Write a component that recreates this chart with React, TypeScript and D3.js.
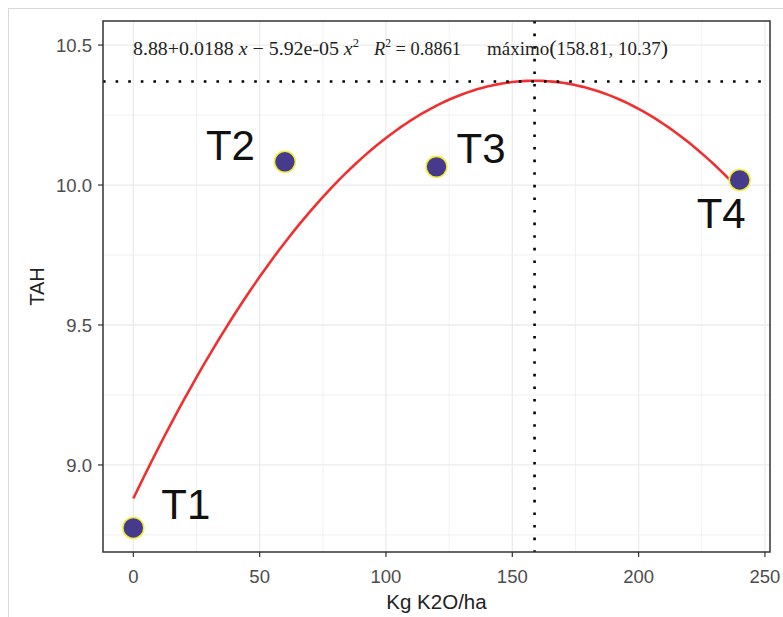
import React from "react";
import * as d3 from "d3";

const doses = [0, 60, 120, 240];
const tah = [8.775, 10.083, 10.065, 10.018];
const treatLabels = ["T1", "T2", "T3", "T4"];
const coefs = [8.88, 0.0188, -5.92e-5];
const maxPoint = [158.81, 10.37];
const r2 = 0.8861;
const xTicks = [0, 50, 100, 150, 200, 250];
const xMinor = [25, 75, 125, 175, 225];
const yTicks = [9.0, 9.5, 10.0, 10.5];
const yMinor = [8.75, 9.25, 9.75, 10.25];

const W = 783, H = 617;
const PL = 103, PR = 770, PT = 21, PB = 552;

export default function App() {
  const x = d3.scaleLinear().domain([-12, 252]).range([PL, PR]);
  const y = d3.scaleLinear().domain([8.689, 10.586]).range([PB, PT]);
  const fit = (v: number) => coefs[0] + coefs[1] * v + coefs[2] * v * v;
  const xs = d3.range(0, 240.01, 2);
  const line = d3.line<number>().x((v) => x(v)).y((v) => y(fit(v)));
  const labelOffsets = [[28, -9], [-79, -2], [20, -4], [-43, 48]];
  const sans = "Arial, 'Liberation Sans', sans-serif";
  const serif = "'Times New Roman', 'Liberation Serif', serif";
  const grid = "#ebebeb";
  const eqY = 55;
  return (
    <svg width={W} height={H} style={{ position: "absolute", left: 0, top: 0, background: "#fff" }}>
      <rect x={8.5} y={8.5} width={W} height={H} fill="none" stroke="#d9d9d9" />
      {xMinor.map((t) => (
        <line key={"xm" + t} x1={x(t)} x2={x(t)} y1={PT} y2={PB} stroke={grid} strokeWidth={0.7} />
      ))}
      {yMinor.map((t) => (
        <line key={"ym" + t} x1={PL} x2={PR} y1={y(t)} y2={y(t)} stroke={grid} strokeWidth={0.7} />
      ))}
      {xTicks.map((t) => (
        <line key={"xg" + t} x1={x(t)} x2={x(t)} y1={PT} y2={PB} stroke={grid} strokeWidth={1.3} />
      ))}
      {yTicks.map((t) => (
        <line key={"yg" + t} x1={PL} x2={PR} y1={y(t)} y2={y(t)} stroke={grid} strokeWidth={1.3} />
      ))}
      <path d={line(xs) || ""} fill="none" stroke="#f03030" strokeWidth={2.6} />
      <line x1={PL} x2={PR} y1={y(maxPoint[1])} y2={y(maxPoint[1])} stroke="#000" strokeWidth={2.6} strokeDasharray="2.6 10" />
      <line x1={x(maxPoint[0])} x2={x(maxPoint[0])} y1={PT} y2={PB} stroke="#000" strokeWidth={2.6} strokeDasharray="2.6 10" />
      {doses.map((d, i) => (
        <circle key={"p" + i} cx={x(d)} cy={y(tah[i])} r={10.5} fill="#463a8c" stroke="#f2ee3a" strokeWidth={1.6} />
      ))}
      {doses.map((d, i) => (
        <text key={"l" + i} x={x(d) + labelOffsets[i][0]} y={y(tah[i]) + labelOffsets[i][1]} fontFamily={sans} fontSize={42} fill="#111">
          {treatLabels[i]}
        </text>
      ))}
      <g fontFamily={serif} fill="#222">
        <text x={133} y={eqY} fontSize={19} textLength={226} lengthAdjust="spacingAndGlyphs">
          <tspan>{"8.88+0.0188 "}</tspan>
          <tspan fontStyle="italic">x</tspan>
          <tspan>{" \u2212 5.92e-05 "}</tspan>
          <tspan fontStyle="italic">x</tspan>
          <tspan fontSize={12} dy={-8}>2</tspan>
        </text>
        <text x={374} y={eqY} fontSize={19} textLength={87} lengthAdjust="spacingAndGlyphs">
          <tspan fontStyle="italic">R</tspan>
          <tspan fontSize={12} dy={-8}>2</tspan>
          <tspan dy={8}>{" = " + r2.toFixed(4)}</tspan>
        </text>
        <text x={487} y={eqY} fontSize={19} textLength={181} lengthAdjust="spacingAndGlyphs">
          <tspan>{"máximo"}</tspan>
          <tspan fontSize={22}>(</tspan>
          <tspan>{maxPoint[0].toFixed(2) + ", " + maxPoint[1].toFixed(2)}</tspan>
          <tspan fontSize={22}>)</tspan>
        </text>
      </g>
      <rect x={PL} y={PT} width={PR - PL} height={PB - PT} fill="none" stroke="#333" strokeWidth={1.5} />
      {xTicks.map((t) => (
        <g key={"xt" + t}>
          <line x1={x(t)} x2={x(t)} y1={PB} y2={PB + 5} stroke="#333" strokeWidth={1.2} />
          <text x={x(t)} y={576} dy="0.36em" textAnchor="middle" fontFamily={sans} fontSize={18.5} fill="#4d4d4d">
            {t}
          </text>
        </g>
      ))}
      {yTicks.map((t) => (
        <g key={"yt" + t}>
          <line x1={PL - 5} x2={PL} y1={y(t)} y2={y(t)} stroke="#333" strokeWidth={1.2} />
          <text x={PL - 11} y={y(t)} dy="0.36em" textAnchor="end" fontFamily={sans} fontSize={18.5} fill="#4d4d4d">
            {t.toFixed(1)}
          </text>
        </g>
      ))}
      <text x={(PL + PR) / 2} y={602} dy="0.36em" textAnchor="middle" fontFamily={sans} fontSize={20.5} fill="#222">
        Kg K2O/ha
      </text>
      <text transform={`translate(37,${(PT + PB) / 2}) rotate(-90)`} dy="0.36em" textAnchor="middle" fontFamily={sans} fontSize={20} fill="#222">
        TAH
      </text>
    </svg>
  );
}
